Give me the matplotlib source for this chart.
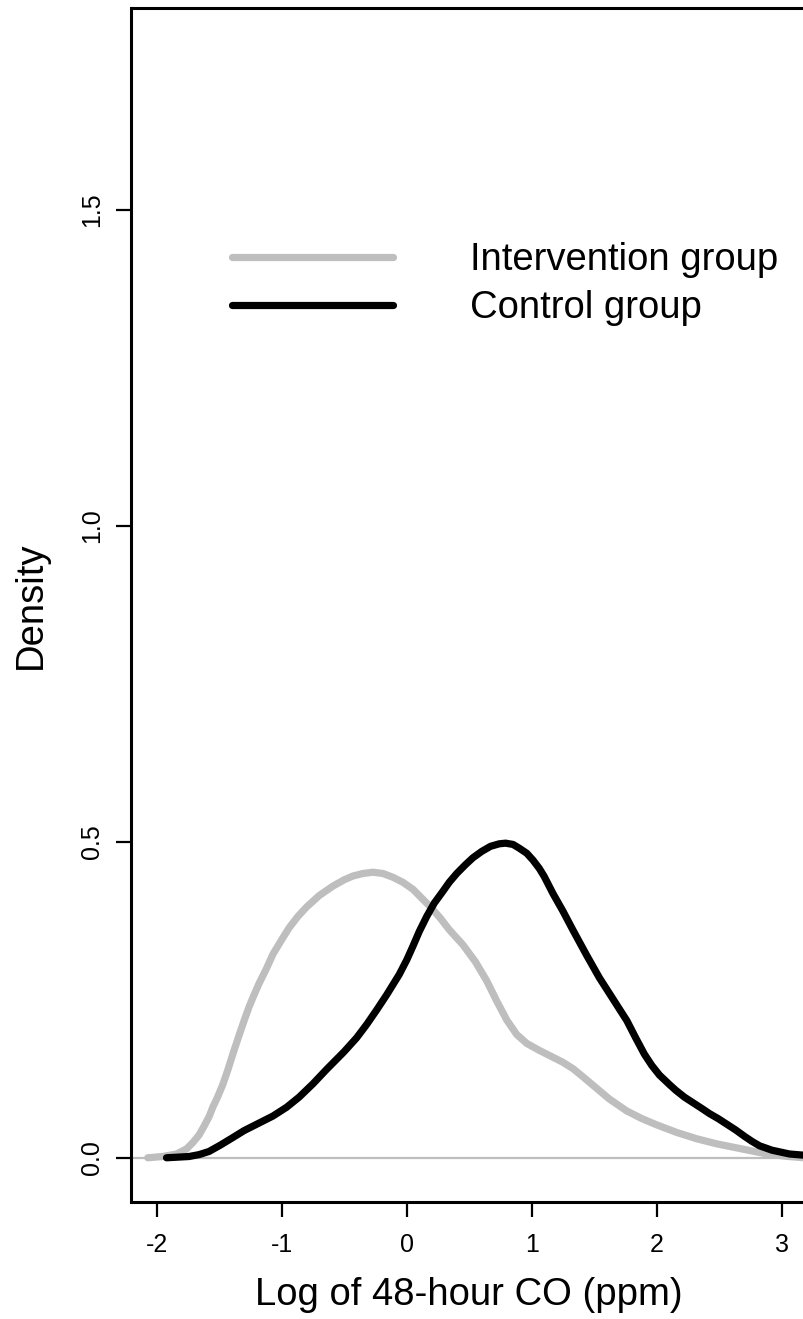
import matplotlib
matplotlib.use("Agg")
import matplotlib.pyplot as plt

# Data
intervention_x = [-2.07, -1.95, -1.84, -1.76, -1.71, -1.66, -1.62, -1.58, -1.55, -1.51,
                  -1.47, -1.43, -1.39, -1.34, -1.30, -1.26, -1.22, -1.18, -1.12, -1.07,
                  -1.00, -0.94, -0.87, -0.80, -0.70, -0.59, -0.50, -0.43, -0.35, -0.27,
                  -0.19, -0.11, -0.03, 0.05, 0.12, 0.20, 0.27, 0.34, 0.45, 0.55,
                  0.64, 0.72, 0.80, 0.88, 0.96, 1.06, 1.17, 1.25, 1.33, 1.41,
                  1.50, 1.62, 1.76, 1.88, 2.00, 2.16, 2.32, 2.48, 2.68, 2.88,
                  3.05, 3.18]
intervention_y = [0.0, 0.002, 0.006, 0.014, 0.024, 0.036, 0.05, 0.065, 0.08, 0.097,
                  0.116, 0.139, 0.164, 0.194, 0.217, 0.239, 0.258, 0.276, 0.30, 0.322,
                  0.345, 0.364, 0.382, 0.397, 0.415, 0.43, 0.44, 0.446, 0.45, 0.452,
                  0.45, 0.444, 0.436, 0.425, 0.411, 0.395, 0.379, 0.361, 0.337, 0.31,
                  0.28, 0.248, 0.218, 0.195, 0.181, 0.17, 0.159, 0.151, 0.141, 0.128,
                  0.113, 0.093, 0.074, 0.062, 0.052, 0.04, 0.03, 0.022, 0.014, 0.006,
                  0.002, 0.0]

control_x = [-1.92, -1.83, -1.74, -1.66, -1.58, -1.49, -1.39, -1.30, -1.20, -1.07,
             -0.96, -0.86, -0.75, -0.64, -0.50, -0.40, -0.32, -0.24, -0.16, -0.06,
             0.00, 0.05, 0.10, 0.16, 0.22, 0.29, 0.34, 0.40, 0.47, 0.53,
             0.60, 0.67, 0.74, 0.79, 0.85, 0.90, 0.96, 1.01, 1.06, 1.10,
             1.17, 1.25, 1.33, 1.44, 1.54, 1.65, 1.76, 1.83, 1.90, 1.96,
             2.02, 2.10, 2.15, 2.22, 2.29, 2.36, 2.42, 2.49, 2.56, 2.63,
             2.70, 2.76, 2.82, 2.92, 3.06, 3.18]
control_y = [0.0, 0.001, 0.002, 0.005, 0.01, 0.02, 0.032, 0.043, 0.053, 0.066,
             0.08, 0.096, 0.117, 0.14, 0.168, 0.19, 0.211, 0.234, 0.258, 0.29,
             0.313, 0.335, 0.358, 0.382, 0.403, 0.422, 0.436, 0.45, 0.464, 0.475,
             0.485, 0.493, 0.497, 0.498, 0.496, 0.49, 0.482, 0.471, 0.458, 0.445,
             0.418, 0.39, 0.36, 0.32, 0.285, 0.251, 0.217, 0.19, 0.164, 0.146,
             0.131, 0.116, 0.107, 0.096, 0.087, 0.078, 0.07, 0.062, 0.053, 0.044,
             0.034, 0.026, 0.019, 0.012, 0.006, 0.004]

x_ticks = [-2, -1, 0, 1, 2, 3]
y_ticks = [0.0, 0.5, 1.0, 1.5]
y_ticklabels = ["0.0", "0.5", "1.0", "1.5"]
series_labels = ["Intervention group", "Control group"]
xlabel = "Log of 48-hour CO (ppm)"
ylabel = "Density"

GREY = "#BEBEBE"
plt.rcParams['font.family'] = ['Liberation Sans', 'DejaVu Sans']

W, H = 804, 1319
fig = plt.figure(figsize=(W / 100, H / 100), dpi=100)
left, right, top, bottom = 131.5, 807, 8, 1202
ax = fig.add_axes([left / W, (H - bottom) / H, (right - left) / W, (bottom - top) / H])

ax.axhline(0, color=GREY, lw=1.6, zorder=1)
ax.plot(intervention_x, intervention_y, color=GREY, lw=5.2, solid_joinstyle='round',
        solid_capstyle='round', label=series_labels[0], zorder=2)
ax.plot(control_x, control_y, color="black", lw=5.2, solid_joinstyle='round',
        solid_capstyle='round', label=series_labels[1], zorder=3)

ax.set_xlim(-2.2, 3.2)
ax.set_ylim(-0.07, 1.82)
ax.set_xticks(x_ticks)
ax.set_xticklabels([str(t) for t in x_ticks])
ax.set_yticks(y_ticks)
ax.set_yticklabels(y_ticklabels, rotation=90, va='center')

for s in ax.spines.values():
    s.set_linewidth(2.2)
    s.set_color("black")
ax.tick_params(axis='both', length=10.5, width=1.6, labelsize=18, color='black')
ax.tick_params(axis='x', pad=12)
ax.tick_params(axis='y', pad=9)

ax.set_xlabel(xlabel, fontsize=27.5)
ax.xaxis.set_label_coords(0.5, -(1295 - 1202) / (bottom - top), transform=ax.transAxes)
ax.xaxis.label.set_va('center')
ax.set_ylabel(ylabel, fontsize=27.5)
ax.yaxis.set_label_coords(-(left - 31) / (right - left), 0.5)
ax.yaxis.label.set_va('center')

fs = 27.5
fs_px = fs * 100 / 72
leg = ax.legend(loc='upper left', bbox_to_anchor=(232 / W, 1 - 242 / H),
                bbox_transform=fig.transFigure, frameon=False, fontsize=fs,
                handlelength=161 / fs_px, handletextpad=77 / fs_px, labelspacing=0.32,
                borderpad=0, borderaxespad=0)

fig.savefig("out.png", dpi=100)
